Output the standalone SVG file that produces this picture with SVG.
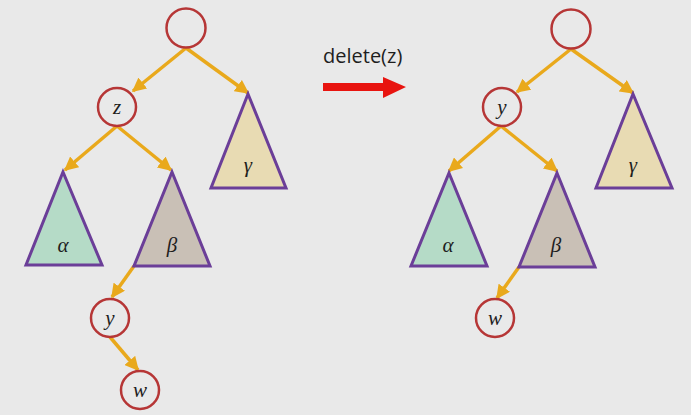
<svg xmlns="http://www.w3.org/2000/svg" width="691" height="415" viewBox="0 0 691 415">
  <defs>
    <marker id="tip" viewBox="0 0 10 10" refX="9" refY="5" markerWidth="4" markerHeight="4" markerUnits="strokeWidth" orient="auto">
      <path d="M0,0 L10,5 L0,10 z" fill="#e9a91c"/>
    </marker>
    <style>
      .node { fill: none; stroke: #b63636; stroke-width: 2.5; }
      .tree { stroke: #6b3e98; stroke-width: 3; stroke-linejoin: miter; }
      .a { fill: #b5dbc7; }
      .b { fill: #c9c0b6; }
      .g { fill: #e8dbb3; }
      .edge { stroke: #e9a91c; stroke-width: 3.5; fill: none; marker-end: url(#tip); }
      .lbl { font-family: "Liberation Serif", "DejaVu Serif", serif; font-style: italic; font-size: 21px; fill: #1e1e1e; text-anchor: middle; }
      .cmd { font-family: "Open Sans", "Noto Sans", sans-serif; font-size: 20px; fill: #1e1e1e; }
    </style>
  </defs>
  <rect width="691" height="415" fill="#e9e9e9"/>

  <!-- connectors -->
  <g id="connectors">
    <!-- before -->
    <line class="edge" x1="186" y1="48" x2="133" y2="91"/>
    <line class="edge" x1="186" y1="48" x2="248" y2="93"/>
    <line class="edge" x1="117" y1="126" x2="65" y2="170"/>
    <line class="edge" x1="117" y1="126" x2="171" y2="170"/>
    <line class="edge" x1="134" y1="266" x2="112" y2="297"/>
    <line class="edge" x1="110" y1="337" x2="138" y2="370"/>
    <!-- after -->
    <line class="edge" x1="571" y1="49" x2="517" y2="92"/>
    <line class="edge" x1="571" y1="49" x2="633" y2="93"/>
    <line class="edge" x1="501" y1="126" x2="449" y2="171"/>
    <line class="edge" x1="501" y1="126" x2="557" y2="171"/>
    <line class="edge" x1="519" y1="267" x2="497" y2="298"/>
  </g>

  <!-- before deletion -->
  <g id="root-before"><circle class="node" cx="186" cy="28" r="19.5"/></g>
  <g id="z-before"><circle class="node" cx="117" cy="107" r="19"/><text class="lbl" x="117" y="114">z</text></g>
  <g id="gamma-before"><polygon class="tree g" points="248,94 286,188 211,188"/><text class="lbl" x="248" y="172">γ</text></g>
  <g id="alpha-before"><polygon class="tree a" points="63,172 102,265 26,265"/><text class="lbl" x="63" y="252">α</text></g>
  <g id="beta-before"><polygon class="tree b" points="172,172 210,266 134,266"/><text class="lbl" x="172" y="252">β</text></g>
  <g id="y-before"><circle class="node" cx="110" cy="318" r="19"/><text class="lbl" x="110" y="325">y</text></g>
  <g id="w-before"><circle class="node" cx="140" cy="390" r="19"/><text class="lbl" x="140" y="397">w</text></g>

  <!-- operation -->
  <g id="operation">
    <text class="cmd" x="323" y="63">delete(z)</text>
    <polygon points="323,83 383,83 383,77 406,87 383,98 383,91 323,91" fill="#e8140f"/>
  </g>

  <!-- after deletion -->
  <g id="root-after"><circle class="node" cx="571" cy="29" r="19.5"/></g>
  <g id="y-after"><circle class="node" cx="502" cy="107" r="19"/><text class="lbl" x="502" y="114">y</text></g>
  <g id="gamma-after"><polygon class="tree g" points="633,94 672,188 596,188"/><text class="lbl" x="633" y="172">γ</text></g>
  <g id="alpha-after"><polygon class="tree a" points="449,173 487,266 411,266"/><text class="lbl" x="448" y="252">α</text></g>
  <g id="beta-after"><polygon class="tree b" points="557,173 595,267 519,267"/><text class="lbl" x="556" y="252">β</text></g>
  <g id="w-after"><circle class="node" cx="495" cy="318" r="19"/><text class="lbl" x="495" y="325">w</text></g>
</svg>
